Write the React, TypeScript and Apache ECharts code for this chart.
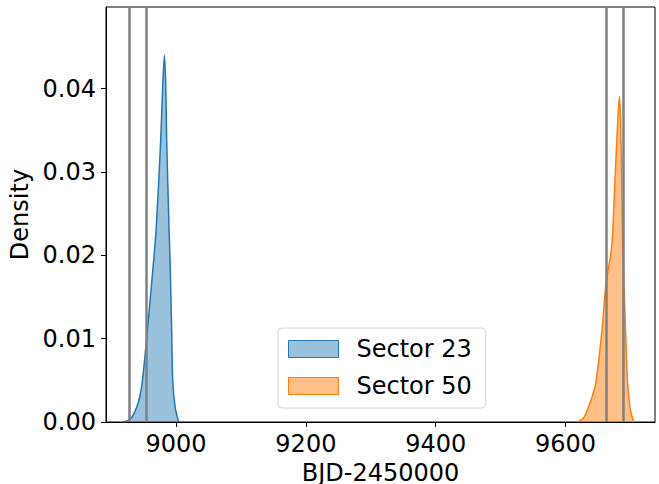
import React, { useEffect, useRef } from "react";
import * as echarts from "echarts";

// Sector 23 KDE (BJD-2450000, density)
const sector23X = [8918, 8927, 8933, 8939.4, 8944, 8948.2, 8955.8, 8961, 8965, 8969.2, 8976.3, 8979.5, 8982, 8984, 8985.5, 8989.2, 8990.8, 8993.2, 8994.8, 8998.5, 9004];
const sector23Y = [0, 0.0002, 0.0007, 0.0018, 0.003, 0.005, 0.011, 0.0155, 0.019, 0.023, 0.0338, 0.0405, 0.044, 0.0405, 0.0338, 0.023, 0.019, 0.011, 0.005, 0.0018, 0];

// Sector 50 KDE
const sector50X = [9618, 9628, 9635.4, 9641, 9646.6, 9655.8, 9662.5, 9671.2, 9676.3, 9680.5, 9683.1, 9685, 9686.6, 9688.2, 9690.2, 9692.8, 9695.8, 9699.4, 9705];
const sector50Y = [0, 0.0005, 0.0018, 0.003, 0.0046, 0.0106, 0.0166, 0.021, 0.029, 0.036, 0.0391, 0.036, 0.029, 0.021, 0.0166, 0.0106, 0.0046, 0.0018, 0];

// Vertical reference lines
const sector23Lines = [8927.8, 8953.7];
const sector50Lines = [9663.5, 9689.2];

const xTicks = [9000, 9200, 9400, 9600];
const yTicks = [0, 0.01, 0.02, 0.03, 0.04];
const seriesNames = ["Sector 23", "Sector 50"];

const FONT = "DejaVu Sans";

export default function App() {
  const ref = useRef<HTMLDivElement>(null);
  useEffect(() => {
    if (!ref.current) return;
    const chart = echarts.init(ref.current, null, { renderer: "svg" });
    const blue = "#1f77b4";
    const orange = "#ff7f0e";
    const s23 = sector23X.map((x, i) => [x, sector23Y[i]]);
    const s50 = sector50X.map((x, i) => [x, sector50Y[i]]);
    const vlines = [...sector23Lines, ...sector50Lines].map((v) => ({ xAxis: v }));
    chart.setOption({
      animation: false,
      textStyle: { fontFamily: FONT },
      grid: {
        left: 106,
        top: 7,
        width: 549,
        height: 415,
        show: true,
        borderColor: "#000",
        borderWidth: 1,
        backgroundColor: "transparent",
        outerBoundsMode: "none",
        containLabel: false,
      },
      legend: {
        orient: "vertical",
        left: 278,
        top: 328,
        padding: [9, 14, 10, 10],
        itemGap: 13,
        itemWidth: 50,
        itemHeight: 17,
        backgroundColor: "#fff",
        borderColor: "#d6d6d6",
        borderWidth: 1,
        borderRadius: 4,
        textStyle: { fontSize: 24, color: "#000", fontFamily: FONT, padding: [0, 0, 0, 13] },
        data: [
          { name: seriesNames[0], icon: "rect", itemStyle: { color: "rgba(31,119,180,0.45)", borderColor: blue, borderWidth: 1 } },
          { name: seriesNames[1], icon: "rect", itemStyle: { color: "rgba(255,127,14,0.5)", borderColor: orange, borderWidth: 1 } },
        ],
      },
      xAxis: {
        type: "value",
        min: 8892,
        max: 9738,
        name: "BJD-2450000",
        nameLocation: "middle",
        nameGap: 36,
        nameTextStyle: { fontSize: 24, color: "#000", fontFamily: FONT },
        axisLine: { show: true, lineStyle: { color: "#000", width: 1 } },
        axisTick: { show: true, length: 5, customValues: xTicks, lineStyle: { color: "#000" } },
        axisLabel: {
          fontSize: 24,
          color: "#000",
          margin: 10,
          customValues: xTicks,
          fontFamily: FONT,
          formatter: (v: number) => String(v),
        },
        splitLine: { show: false },
      },
      yAxis: {
        type: "value",
        min: 0,
        max: 0.0498,
        name: "Density",
        nameLocation: "middle",
        nameGap: 68,
        nameTextStyle: { fontSize: 24, color: "#000", fontFamily: FONT },
        axisLine: { show: true, lineStyle: { color: "#000", width: 1 } },
        axisTick: { show: true, length: 5, customValues: yTicks, lineStyle: { color: "#000" } },
        axisLabel: {
          fontSize: 24,
          color: "#000",
          margin: 10,
          customValues: yTicks,
          fontFamily: FONT,
          formatter: (v: number) => v.toFixed(2),
        },
        splitLine: { show: false },
      },
      series: [
        {
          name: seriesNames[0],
          type: "line",
          data: s23,
          smooth: 0.3,
          showSymbol: false,
          color: blue,
          lineStyle: { color: blue, width: 1.5 },
          areaStyle: { color: "rgba(31,119,180,0.45)", opacity: 1 },
          z: 2,
        },
        {
          name: seriesNames[1],
          type: "line",
          data: s50,
          smooth: 0.3,
          showSymbol: false,
          color: orange,
          lineStyle: { color: orange, width: 1.5 },
          areaStyle: { color: "rgba(255,127,14,0.5)", opacity: 1 },
          z: 2,
        },
        {
          name: "vlines",
          type: "line",
          data: [],
          z: 5,
          markLine: {
            silent: true,
            symbol: ["none", "none"],
            label: { show: false },
            lineStyle: { color: "#808080", width: 2.5, type: "solid" },
            data: vlines,
            z: 5,
          },
        },
      ],
    });
    return () => chart.dispose();
  }, []);
  return <div ref={ref} style={{ width: 659, height: 484, position: "absolute", left: 0, top: 0 }} />;
}
